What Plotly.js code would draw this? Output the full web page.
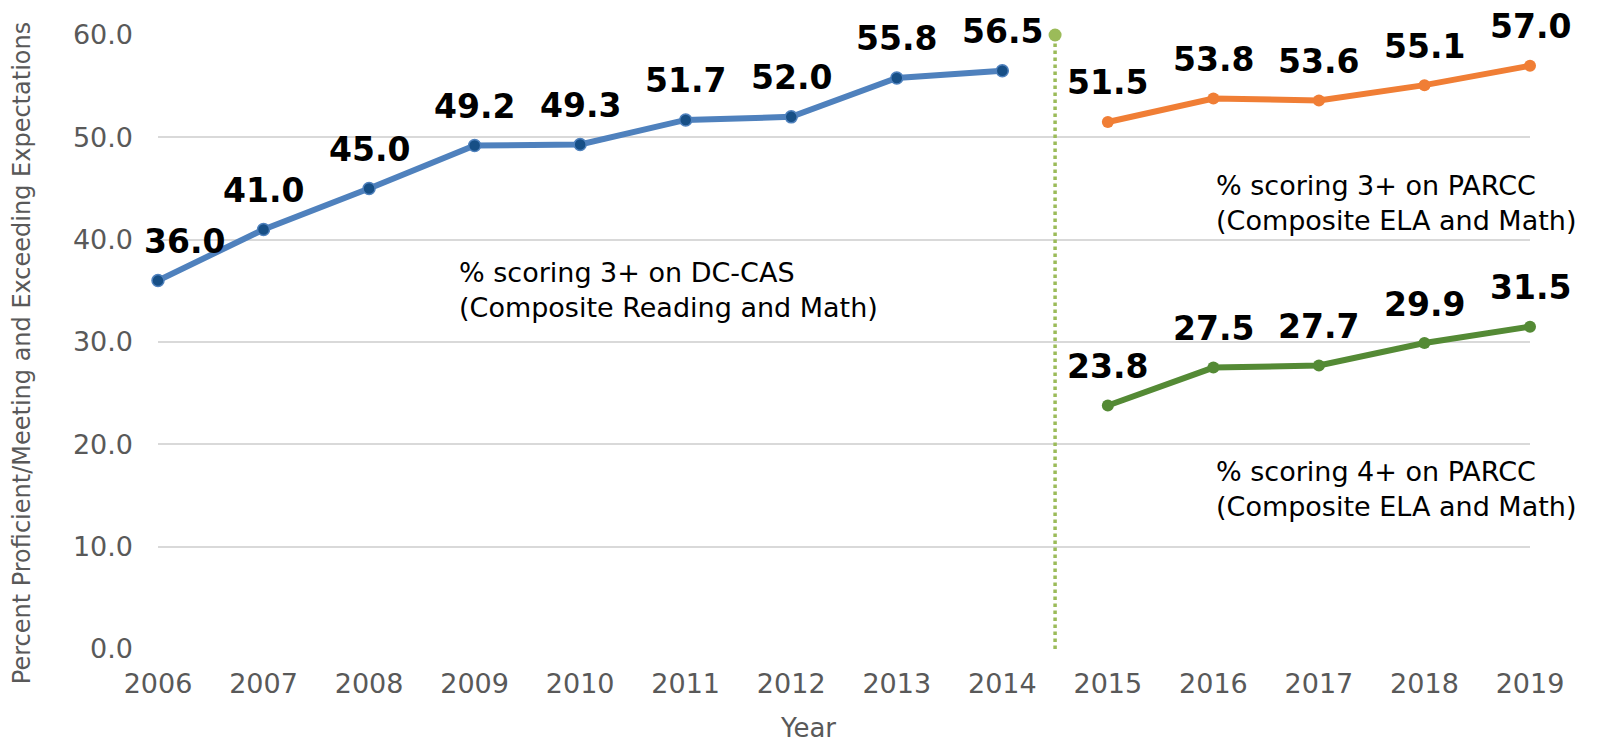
<!DOCTYPE html>
<html>
<head>
<meta charset="utf-8">
<script src="https://cdn.plot.ly/plotly-3.0.1.min.js"></script>
<style>html,body{margin:0;padding:0;background:#fff;}#chart{width:1604px;height:744px;}</style>
</head>
<body>
<div id="chart"></div>
<script>
const years = [2006,2007,2008,2009,2010,2011,2012,2013,2014,2015,2016,2017,2018,2019];
const dccasYears = [2006,2007,2008,2009,2010,2011,2012,2013,2014];
const dccas3 = [36.0,41.0,45.0,49.2,49.3,51.7,52.0,55.8,56.5];
const parccYears = [2015,2016,2017,2018,2019];
const parcc3 = [51.5,53.8,53.6,55.1,57.0];
const parcc4 = [23.8,27.5,27.7,29.9,31.5];
const dividerX = 2014.5;
const dividerY = [0, 60];
const yTicks = [0,10,20,30,40,50,60];
const seriesNotes = [
  "% scoring 3+ on DC-CAS<br>(Composite Reading and Math)",
  "% scoring 3+ on PARCC<br>(Composite ELA and Math)",
  "% scoring 4+ on PARCC<br>(Composite ELA and Math)"
];

const FONT = "DejaVu Sans";
const traces = [
  {x:[dividerX,dividerX], y:dividerY, mode:'lines', line:{color:'#9BBB59', width:3.5, dash:'dot'}, hoverinfo:'skip', cliponaxis:false},
  {x:[dividerX], y:[dividerY[1]], mode:'markers', marker:{color:'#9BBB59', size:13}, cliponaxis:false},
  {x:dccasYears, y:dccas3, mode:'lines+markers', line:{color:'#4F81BD', width:6},
   marker:{color:'#174F86', size:12, line:{color:'#4F81BD', width:1.5}}, cliponaxis:false},
  {x:parccYears, y:parcc3, mode:'lines+markers', line:{color:'#F07E35', width:6},
   marker:{color:'#F07E35', size:12}, cliponaxis:false},
  {x:parccYears, y:parcc4, mode:'lines+markers', line:{color:'#548A35', width:6},
   marker:{color:'#548A35', size:12}, cliponaxis:false}
];

const annotations = [];
function addLabels(xs, ys){
  xs.forEach((x,i)=>{
    annotations.push({x:x, y:ys[i], xref:'x', yref:'y', text:ys[i].toFixed(1), showarrow:false,
      yshift:39, xshift:(x===years[0]?26:0), yanchor:'middle', xanchor:'center',
      font:{family:FONT, size:33, color:'#000', weight:700}});
  });
}
addLabels(dccasYears, dccas3);
addLabels(parccYears, parcc3);
addLabels(parccYears, parcc4);

const noteFont = {family:FONT, size:27, color:'#000'};
annotations.push(
  {xref:'paper', yref:'paper', x:0.218, y:0.5855, xanchor:'left', yanchor:'middle', align:'left',
   text:seriesNotes[0], showarrow:false, font:noteFont},
  {xref:'paper', yref:'paper', x:0.770, y:0.727, xanchor:'left', yanchor:'middle', align:'left',
   text:seriesNotes[1], showarrow:false, font:noteFont},
  {xref:'paper', yref:'paper', x:0.770, y:0.26, xanchor:'left', yanchor:'middle', align:'left',
   text:seriesNotes[2], showarrow:false, font:noteFont},
  {xref:'paper', yref:'paper', x:-0.099, y:0.482, xanchor:'center', yanchor:'middle', textangle:-90,
   text:'Percent Proficient/Meeting and Exceeding Expectations', showarrow:false,
   font:{family:FONT, size:24, color:'#595959'}},
  {xref:'paper', yref:'paper', x:0.474, y:-0.129, xanchor:'center', yanchor:'middle',
   text:'Year', showarrow:false, font:{family:FONT, size:26, color:'#595959'}}
);

const layout = {
  width:1604, height:744,
  margin:{l:158, r:74, t:35, b:95},
  paper_bgcolor:'#fff', plot_bgcolor:'#fff',
  showlegend:false,
  font:{family:FONT, color:'#595959'},
  xaxis:{range:[2006,2019], tickvals:years, ticktext:years.map(String), showgrid:false,
         zeroline:false, showline:false, ticks:'', ticklabelstandoff:16,
         tickfont:{family:FONT, size:27, color:'#595959'}},
  yaxis:{range:[0,60], tickvals:yTicks, ticktext:yTicks.map(v=>v.toFixed(1)), showgrid:true,
         gridcolor:'#D9D9D9', gridwidth:2, zeroline:false, showline:false, ticks:'',
         ticklabelstandoff:24, tickfont:{family:FONT, size:27, color:'#595959'}},
  annotations:annotations
};
Plotly.newPlot('chart', traces, layout, {displayModeBar:false, staticPlot:true});
</script>
</body>
</html>
